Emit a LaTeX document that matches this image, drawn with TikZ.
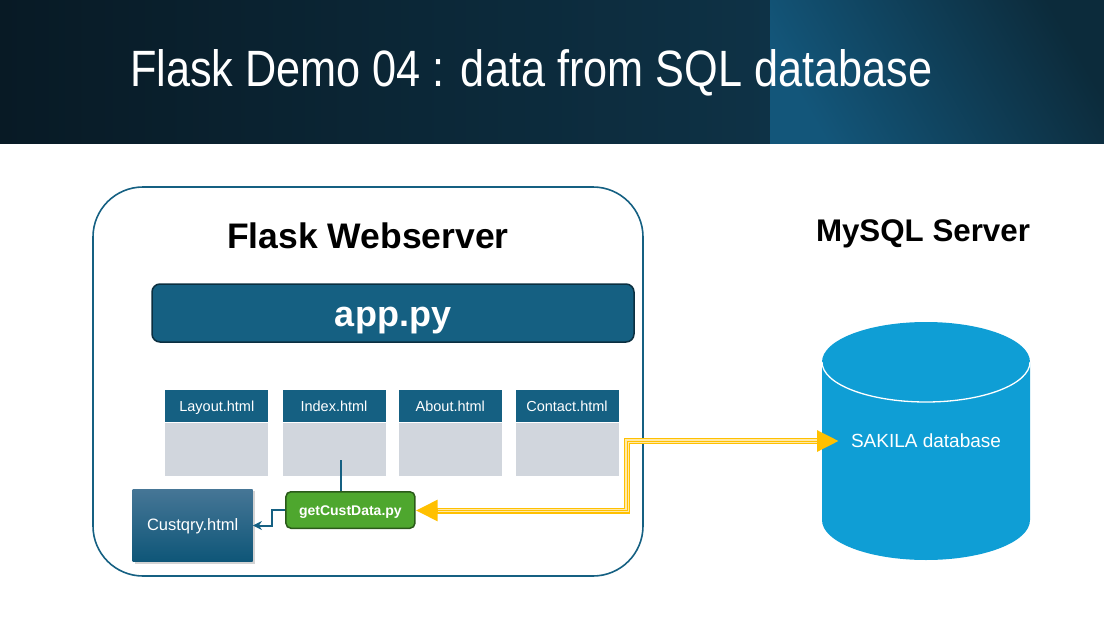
\documentclass[tikz,border=0pt]{standalone}
\usepackage{fontspec}
\setmainfont{Liberation Sans}
\usetikzlibrary{arrows.meta,shadows,calc}
\definecolor{teal}{HTML}{156082}
\definecolor{tealdark}{HTML}{0B2F40}
\definecolor{hbody}{HTML}{D1D6DD}
\definecolor{grn}{HTML}{4EA72E}
\definecolor{grndark}{HTML}{2A5A19}
\definecolor{dbblue}{HTML}{0F9ED5}
\definecolor{ylw}{HTML}{FFC000}
\definecolor{ylwpale}{HTML}{FFE9A8}
\definecolor{hdrL}{HTML}{081A25}
\definecolor{hdrM}{HTML}{0E3246}
\definecolor{hdrDark}{HTML}{0C2B3B}
\definecolor{hdrBright}{HTML}{13567A}
\definecolor{cqTop}{HTML}{467696}
\definecolor{cqBot}{HTML}{0E5678}
\tikzset{
  fsz/.style={font=\fontsize{#1}{#1}\selectfont},
  htmlhead/.style={fill=teal, draw=none, minimum width=103pt, minimum height=32pt, inner sep=0pt, text=white, fsz=14.5, text height=10.8pt, text depth=0pt},
  htmlbody/.style={fill=hbody, draw=none, minimum width=103pt, minimum height=53pt, inner sep=0pt},
  conn/.style={draw=teal, line width=2pt},
}
\begin{document}
\begin{tikzpicture}[x=1pt,y=-1pt]
\useasboundingbox (0,0) rectangle (1104,632);
% header
\shade[left color=hdrL, right color=hdrM] (0,0) rectangle (770,143);
\shade[top color=hdrDark, bottom color=hdrBright, shading angle=-60] (770,0) rectangle (1104,143);
\node[anchor=base west, inner sep=0pt, text=white] (title) at (130,86)
  {\resizebox{802pt}{37pt}{\fontsize{40}{40}\selectfont Flask Demo 04 : data from SQL database}};

% flask webserver box
\node[draw=teal, line width=1.6pt, rounded corners=50pt, minimum width=550pt, minimum height=389pt] (flask) at (368,381.5) {};
\node[font=\fontsize{35.5}{35.5}\selectfont\bfseries, anchor=base] (flasklbl) at (368,248.5) {Flask Webserver};

% app.py
\node[fill=teal, draw=tealdark, line width=1.5pt, rounded corners=8pt, minimum width=482pt, minimum height=58pt, text=white, font=\fontsize{36}{36}\selectfont\bfseries, text height=27.4pt, text depth=0pt, inner sep=0pt] (app) at (393,313) {app.py};

% html boxes
\foreach \n/\x/\t in {lay/216.8/Layout.html, idx/334/Index.html, abt/450.3/About.html, con/567/Contact.html}{
  \node[htmlhead] (\n h) at (\x,406.3) {\t};
  \node[htmlbody] (\n b) at (\x,449) {};
}

% getCustData
\node[fill=grn, draw=grndark, line width=1.5pt, rounded corners=5pt, minimum width=129pt, minimum height=36.5pt, inner sep=0pt, text=white, font=\fontsize{14}{14}\selectfont\bfseries, text height=10pt, text depth=0pt] (gcd) at (350.4,510) {getCustData.py};

% Custqry
\node[top color=cqTop, bottom color=cqBot, draw=none, minimum width=120pt, minimum height=72.5pt, inner sep=0pt, text=white, fsz=16.5, text height=10.8pt, text depth=0pt,
  drop shadow={shadow xshift=2pt, shadow yshift=-2pt, opacity=0.35}] (cq) at (192.7,525.3) {Custqry.html};

% connectors
\coordinate (idxline) at (340.5,460);
\draw[conn] (idxline) -- (idxline |- gcd.north);
\coordinate (cqin) at (cq.east |- 0,525.5);
\draw[conn, -{Stealth[length=9pt,width=9pt]}] (gcd.west) -- (272,510) -- (272,525.5) -- (cqin);

% MySQL server
\node[font=\fontsize{31.3}{31.3}\selectfont\bfseries, anchor=base] (mysql) at (923,241) {MySQL Server};
\fill[dbblue] (822,362) -- (822,520) arc[start angle=180, end angle=0, x radius=104, y radius=40] -- (1030,362) arc[start angle=360, end angle=180, x radius=104, y radius=40] -- cycle;
\draw[white, line width=1.3pt] (822,362) arc[start angle=180, end angle=0, x radius=104, y radius=40];
\node[text=white, fsz=19, text height=13.4pt, text depth=0pt] (db) at (926,441) {SAKILA database};
\coordinate (dbw) at (839,441);

% yellow double connector
\coordinate (ya) at (627,441);
\coordinate (yb) at (627,510.5);
\coordinate (gcdin) at (gcd.east |- yb);
\draw[ylw, line width=6pt, {Triangle[length=22pt,width=20pt]}-{Triangle[length=22pt,width=20pt]}] (gcdin) -- (yb) -- (ya) -- (dbw);
\draw[ylwpale, line width=3.6pt, shorten <=22pt, shorten >=22pt] (gcdin) -- (yb) -- (ya) -- (dbw);
\draw[ylw, line width=1pt, shorten <=22pt, shorten >=22pt] (gcdin) -- (yb) -- (ya) -- (dbw);
\end{tikzpicture}
\end{document}
